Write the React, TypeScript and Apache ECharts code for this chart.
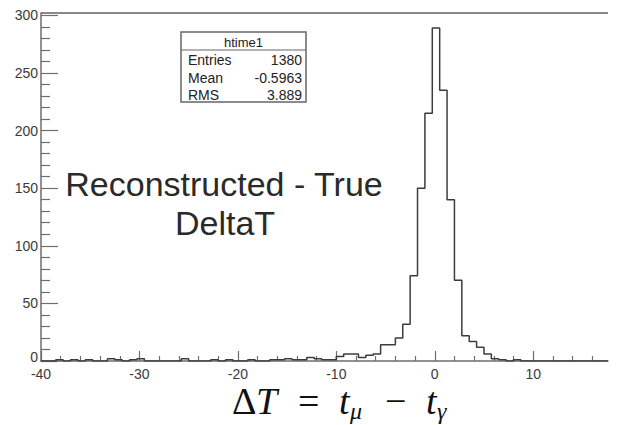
import React, { useEffect, useRef } from "react";
import * as echarts from "echarts";

// ---- Data ----
const X_MIN = -40;
const X_MAX = 17.6;
const BIN_WIDTH = 0.75;
const Y_MAX = 302;

// counts per bin, bin k covers [X_MIN + k*BIN_WIDTH, X_MIN + (k+1)*BIN_WIDTH)
const counts = [
  0, 0, 1, 0, 1, 0, 1, 0, 0, 2, // -40 .. -32.5
  1, 0, 1, 2, 0, 0, 0, 0, 0, 2, // -32.5 .. -25
  0, 0, 0, 1, 0, 1, 0, 0, 1, 0, // -25 .. -17.5
  0, 1, 1, 2, 1, 1, 3, 2, 1, 1, // -17.5 .. -10
  4, 6, 6, 3, 5, 6, 14, 14, 20, 32, // -10 .. -2.5
  74, 150, 215, 289, 235, 140, 70, 22, 17, 12, // -2.5 .. 5
  6, 2, 1, 0, 1, 0, 0, 0, 0, 0, // 5 .. 12.5
  0, 0, 0, 0, 0, 0, 0, // 12.5 .. 17.75
];

const xTickValues = [-40, -30, -20, -10, 0, 10];
const yTickValues = [0, 50, 100, 150, 200, 250, 300];

const statsTitle = "htime1";
const statsLabels = ["Entries", "Mean", "RMS"];
const statsValues = ["1380", "-0.5963", "3.889"];

const annotationLines = ["Reconstructed - True", "DeltaT"];

const AXIS_COLOR = "#6e6e6e";
const LABEL_COLOR = "#3a3a3a";

export default function App() {
  const ref = useRef<HTMLDivElement>(null);

  useEffect(() => {
    if (!ref.current) return;
    const chart = echarts.init(ref.current, null, { renderer: "svg" });

    const pts: number[][] = [];
    counts.forEach((c, i) => {
      const lo = X_MIN + i * BIN_WIDTH;
      if (lo >= X_MAX) return;
      const hi = Math.min(lo + BIN_WIDTH, X_MAX);
      pts.push([lo, c], [hi, c]);
    });

    const gridLeft = 41;
    const gridRight = 13;
    const gridTop = 13;
    const gridBottom = 64;

    const boxX = 181;
    const boxY = 32;
    const boxW = 125;
    const boxH = 70;
    const rowY = [59.5, 77.5, 95.3];

    const statsGraphics: any[] = [
      {
        type: "rect",
        shape: { x: boxX, y: boxY, width: boxW, height: boxH },
        style: { fill: "#fff", stroke: "#666", lineWidth: 1.5 },
        z: 10,
      },
      {
        type: "line",
        shape: { x1: boxX, y1: 50, x2: boxX + boxW, y2: 50 },
        style: { stroke: "#666", lineWidth: 1.2 },
        z: 11,
      },
      {
        type: "text",
        x: boxX + boxW / 2,
        y: 42.5,
        style: {
          text: statsTitle,
          fill: "#222",
          font: '13px "Liberation Sans", Arial, sans-serif',
          align: "center",
          verticalAlign: "middle",
        },
        z: 12,
      },
    ];
    statsLabels.forEach((lab, i) => {
      statsGraphics.push({
        type: "text",
        x: boxX + 7,
        y: rowY[i],
        style: {
          text: lab,
          fill: "#222",
          font: '14px "Liberation Sans", Arial, sans-serif',
          align: "left",
          verticalAlign: "middle",
        },
        z: 12,
      });
      statsGraphics.push({
        type: "text",
        x: boxX + boxW - 4,
        y: rowY[i],
        style: {
          text: statsValues[i],
          fill: "#222",
          font: '14px "Liberation Sans", Arial, sans-serif',
          align: "right",
          verticalAlign: "middle",
        },
        z: 12,
      });
    });

    const serif = '"Liberation Serif", "DejaVu Serif", serif';
    const fMain = 38;
    const fSub = 24;
    const baseY = 420;
    const subY = 423;
    const formulaParts: { t: string; x: number; italic: boolean; sub: boolean }[] = [
      { t: "Δ", x: 232, italic: false, sub: false },
      { t: "T", x: 256, italic: true, sub: false },
      { t: "=", x: 298, italic: false, sub: false },
      { t: "t", x: 339, italic: true, sub: false },
      { t: "μ", x: 350, italic: true, sub: true },
      { t: "−", x: 385, italic: false, sub: false },
      { t: "t", x: 426, italic: true, sub: false },
      { t: "γ", x: 437, italic: true, sub: true },
    ];
    const formulaGraphics = formulaParts.map((p) => ({
      type: "text",
      x: p.x,
      y: p.sub ? subY : baseY,
      style: {
        text: p.t,
        fill: "#111",
        font: `${p.italic ? "italic " : ""}${p.sub ? fSub : fMain}px ${serif}`,
        align: "left",
        verticalAlign: "bottom",
      },
    }));

    const option: any = {
      animation: false,
      backgroundColor: "#fff",
      grid: {
        left: gridLeft,
        right: gridRight,
        top: gridTop,
        bottom: gridBottom,
        containLabel: false,
      },
      xAxis: {
        type: "value",
        min: X_MIN,
        max: X_MAX,
        interval: 10,
        axisLine: { onZero: false, lineStyle: { color: AXIS_COLOR, width: 1.5 } },
        axisTick: {
          show: true,
          inside: true,
          length: 10,
          customValues: xTickValues,
          lineStyle: { color: AXIS_COLOR, width: 1.2 },
        },
        minorTick: {
          show: true,
          splitNumber: 5,
          length: 5,
          lineStyle: { color: AXIS_COLOR, width: 1.2 },
        },
        axisLabel: {
          customValues: xTickValues,
          color: LABEL_COLOR,
          fontSize: 14,
          fontFamily: '"Liberation Sans", Arial, sans-serif',
          margin: 6,
        },
        splitLine: { show: false },
      },
      yAxis: {
        type: "value",
        min: 0,
        max: Y_MAX,
        interval: 50,
        axisLine: {
          show: true,
          onZero: false,
          lineStyle: { color: AXIS_COLOR, width: 1.5 },
        },
        axisTick: {
          show: true,
          inside: true,
          length: 17,
          customValues: yTickValues,
          lineStyle: { color: AXIS_COLOR, width: 1.2 },
        },
        minorTick: {
          show: true,
          splitNumber: 5,
          length: 9,
          lineStyle: { color: AXIS_COLOR, width: 1.2 },
        },
        axisLabel: {
          customValues: yTickValues,
          color: LABEL_COLOR,
          fontSize: 14,
          fontFamily: '"Liberation Sans", Arial, sans-serif',
          margin: 3,
          formatter: (v: number) => (v === 0 ? "{z|0}" : String(v)),
          rich: {
            z: {
              fontSize: 14,
              color: LABEL_COLOR,
              fontFamily: '"Liberation Sans", Arial, sans-serif',
              lineHeight: 12,
              padding: [0, 0, 8, 0],
            },
          },
        },
        splitLine: { show: false },
      },
      series: [
        {
          type: "line",
          data: pts,
          showSymbol: false,
          symbol: "none",
          lineStyle: { color: "#3c3c3c", width: 1.5 },
          z: 3,
        },
      ],
      graphic: [
        {
          type: "line",
          shape: { x1: gridLeft, y1: gridTop, x2: 621 - gridRight, y2: gridTop },
          style: { stroke: "#888", lineWidth: 2 },
        },
        {
          type: "text",
          x: 224,
          y: 184,
          style: {
            text: annotationLines[0],
            fill: "#2a2a2a",
            font: '34px "Liberation Sans", Arial, sans-serif',
            align: "center",
            verticalAlign: "middle",
          },
        },
        {
          type: "text",
          x: 225,
          y: 223,
          style: {
            text: annotationLines[1],
            fill: "#2a2a2a",
            font: '34px "Liberation Sans", Arial, sans-serif',
            align: "center",
            verticalAlign: "middle",
          },
        },
        ...statsGraphics,
        ...formulaGraphics,
      ],
    };

    chart.setOption(option);
    return () => {
      chart.dispose();
    };
  }, []);

  return (
    <div
      ref={ref}
      style={{ position: "fixed", left: 0, top: 0, width: 621, height: 425 }}
    />
  );
}
